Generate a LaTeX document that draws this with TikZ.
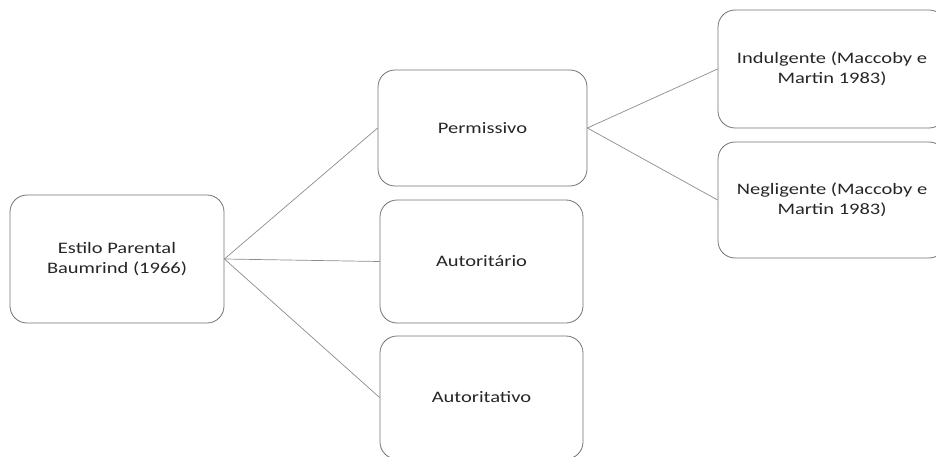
\documentclass[tikz,border=0pt]{standalone}
\usepackage{fontspec}
\setmainfont[FakeStretch=1.28]{Carlito}
\begin{document}
\begin{tikzpicture}[x=1pt,y=-1pt,
  box/.style={draw=black!55, line width=0.8pt, rounded corners=17pt, fill=white,
    align=center, inner sep=0pt, font=\fontsize{16}{20}\selectfont, text=black!85},
  link/.style={draw=black!45, line width=0.7pt}]
  \useasboundingbox (0,0) rectangle (936,457);
  \clip (0,0) rectangle (936,457);
  % root
  \node[box, minimum width=214pt, minimum height=128pt] (root) at (117,259)
    {Estilo Parental\\Baumrind (1966)};
  % second level
  \node[box, minimum width=209pt, minimum height=116pt] (perm) at (482.5,128)
    {Permissivo};
  \node[box, minimum width=203pt, minimum height=123pt] (autor) at (481.5,261.5)
    {Autoritário};
  \node[box, minimum width=203pt, minimum height=123pt] (autot) at (481.5,397.5)
    {Autoritativo};
  % third level
  \node[box, minimum width=228pt, minimum height=118pt] (indu) at (832,69)
    {Indulgente (Maccoby e\\Martin 1983)};
  \node[box, minimum width=228pt, minimum height=116pt] (negl) at (832,200)
    {Negligente (Maccoby e\\Martin 1983)};
  % connectors
  \draw[link] (root.east) -- (perm.west);
  \draw[link] (root.east) -- (autor.west);
  \draw[link] (root.east) -- (autot.west);
  \draw[link] (perm.east) -- (indu.west);
  \draw[link] (perm.east) -- (negl.west);
\end{tikzpicture}
\end{document}
